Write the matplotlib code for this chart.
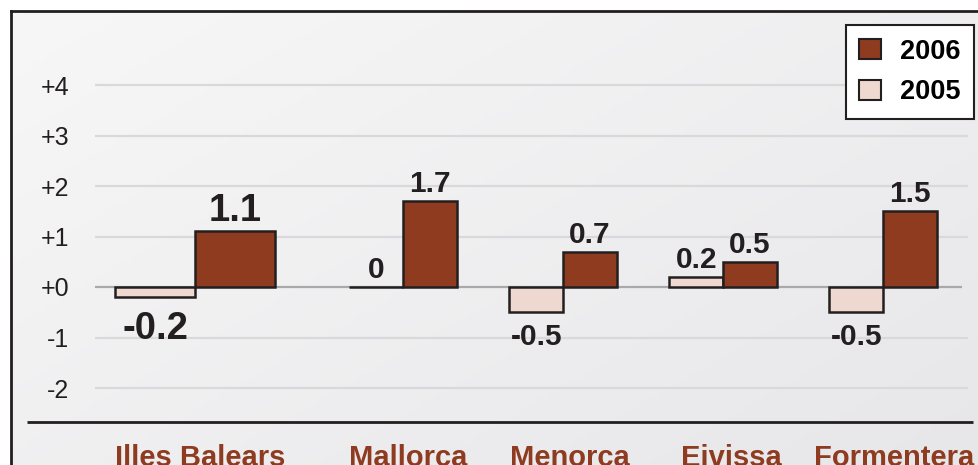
import matplotlib.pyplot as plt
import numpy as np
from matplotlib.patches import Patch

plt.rcParams['font.family'] = ['Liberation Sans', 'DejaVu Sans']

categories = ['Illes Balears', 'Mallorca', 'Menorca', 'Eivissa', 'Formentera']
values_2005 = [-0.2, 0.0, -0.5, 0.2, -0.5]
values_2006 = [1.1, 1.7, 0.7, 0.5, 1.5]
labels_2005 = ['-0.2', '0', '-0.5', '0.2', '-0.5']
labels_2006 = ['1.1', '1.7', '0.7', '0.5', '1.5']
yticks = [-2, -1, 0, 1, 2, 3, 4]
ytick_labels = ['-2', '-1', '+0', '+1', '+2', '+3', '+4']

c2006 = '#8e3b20'
c2005 = '#eed8cf'
edge = '#231f20'

# group centres (first group is wider)
centers = np.array([0.0, 1.3, 2.3, 3.3, 4.3])
widths = np.array([0.5, 0.335, 0.335, 0.335, 0.335])
name_shift = [0.03, 0.03, 0.04, 0.05, 0.07]

W, H = 979, 465
fig = plt.figure(figsize=(W / 100, H / 100), dpi=100)
fig.patch.set_facecolor('white')
ax = fig.add_axes([11 / W, 0, 1 - 11 / W, 1 - 11 / H])

xmin, xmax = (11 - 195) / 160, (979 - 195) / 160
ymin, ymax = -(465 - 287) / 50.5, (287 - 11) / 50.5
ax.set_xlim(xmin, xmax)
ax.set_ylim(ymin, ymax)

# soft grey gradient background
gx, gy = np.meshgrid(np.linspace(0, 1, 200), np.linspace(0, 1, 100))
grad = 0.55 * gx + 0.45 * gy
ax.imshow(grad, extent=[xmin, xmax, ymin, ymax], origin='upper', aspect='auto',
          cmap=plt.matplotlib.colors.LinearSegmentedColormap.from_list(
              'bg', ['#f7f7f7', '#e7e7ea']), zorder=0)

# grid lines
gl, gr = (95 - 195) / 160, (968 - 195) / 160
for t in yticks:
    if t == 0:
        ax.hlines(0, gl, (962 - 195) / 160, color='#a9a9ab', lw=1.6, zorder=1)
    else:
        ax.hlines(t, gl, gr, color='#d9d9dc', lw=1.6, zorder=1)

ax.bar(centers - widths / 2, values_2005, widths, color=c2005, edgecolor=edge,
       linewidth=1.8, zorder=3, label='2005')
ax.bar(centers + widths / 2, values_2006, widths, color=c2006, edgecolor=edge,
       linewidth=1.8, zorder=3, label='2006')

# value labels
for i in range(len(categories)):
    size = 27.5 if i == 0 else 21.5
    x5 = centers[i] - widths[i] / 2
    x6 = centers[i] + widths[i] / 2
    v5, v6 = values_2005[i], values_2006[i]
    if v5 < 0:
        ax.annotate(labels_2005[i], (x5, v5), xytext=(0, -8 if i else -10),
                    textcoords='offset points', ha='center', va='top',
                    fontsize=size, fontweight='bold', color=edge, zorder=4)
    else:
        ax.annotate(labels_2005[i], (x5, v5), xytext=(0, 2),
                    textcoords='offset points', ha='center', va='bottom',
                    fontsize=size, fontweight='bold', color=edge, zorder=4)
    ax.annotate(labels_2006[i], (x6, v6), xytext=(0, 2),
                textcoords='offset points', ha='center', va='bottom',
                fontsize=size, fontweight='bold', color=edge, zorder=4)

# category labels (cut by the bottom edge as in the original)
for c, s, name in zip(centers, name_shift, categories):
    ax.text(c + s, -(444 - 287) / 50.5, name, ha='center', va='top',
            fontsize=21, fontweight='bold', color='#8e3b20', zorder=4)

# bottom axis line
ax.hlines(-(422 - 287) / 50.5, (27 - 195) / 160, (973 - 195) / 160,
          color=edge, lw=2, zorder=2)

ax.set_yticks(yticks)
ax.set_yticklabels(ytick_labels)
ax.tick_params(axis='y', length=0, pad=-42, labelsize=18, labelcolor=edge)
ax.set_xticks([])
for s in ['right', 'bottom']:
    ax.spines[s].set_visible(False)
for s in ['left', 'top']:
    ax.spines[s].set_color(edge)
    ax.spines[s].set_linewidth(2)

handles = [Patch(facecolor=c2006, edgecolor=edge, linewidth=1.5, label='2006'),
           Patch(facecolor=c2005, edgecolor=edge, linewidth=1.5, label='2005')]
leg = ax.legend(handles=handles, loc='upper right',
                bbox_to_anchor=(974 / W, 1 - 25 / H), bbox_transform=fig.transFigure,
                prop={'size': 19.5, 'weight': 'bold'}, frameon=True, fancybox=False,
                handlelength=0.8, handleheight=0.8, handletextpad=0.7,
                labelspacing=0.55, borderpad=0.5, borderaxespad=0)
leg.get_frame().set_edgecolor(edge)
leg.get_frame().set_linewidth(1.5)
leg.get_frame().set_facecolor('white')
leg.get_frame().set_alpha(1)
leg.set_zorder(5)

fig.savefig('out.png', dpi=100)
